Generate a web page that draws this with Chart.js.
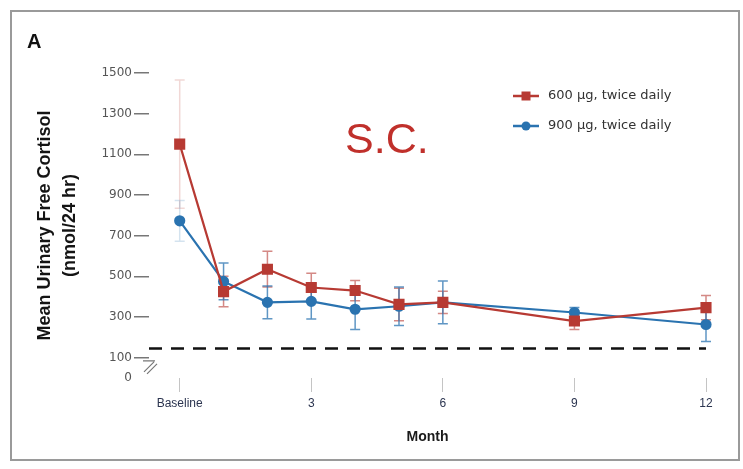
<!DOCTYPE html>
<html>
<head>
<meta charset="utf-8">
<title>Urinary free cortisol by month</title>
<script src="https://cdn.jsdelivr.net/npm/chart.js@4.4.1/dist/chart.umd.min.js"></script>
<style>
  html, body { margin: 0; padding: 0; background: #fff; }
  #wrap { position: relative; width: 743px; height: 469px; }
  #frame { position: absolute; left: 10px; top: 10px; width: 726px; height: 447px; border: 2px solid #9a9a9a; pointer-events: none; }
  #panel { position: absolute; left: 27px; top: 31px; font: bold 20px "Liberation Sans", Arial, sans-serif; line-height: 1; color: #111; }
  #route { position: absolute; left: 345px; top: 117px; font: 43px "Liberation Sans", Arial, sans-serif; line-height: 1; color: #c0302b; }
</style>
</head>
<body>
<div id="wrap">
  <canvas id="ufcChart" width="743" height="469"></canvas>
  <div id="frame"></div>
  <div id="panel">A</div>
  <div id="route">S.C.</div>
</div>
<script>
// visit months (0 = baseline)
const months = [0, 1, 2, 3, 4, 5, 6, 9, 12];

// mean UFC, nmol/24 hr, with error bar half-widths
const dose600 = [1150, 425, 535, 445, 430, 362, 372, 280, 346];
const dose600Err = [315, 75, 88, 70, 50, 80, 55, 42, 60];
const dose900 = [773, 475, 372, 377, 338, 353, 372, 322, 263];
const dose900Err = [100, 90, 80, 87, 100, 95, 105, 25, 83];

const monthTicks = [0, 3, 6, 9, 12];
const monthLabels = ['Baseline', '3', '6', '9', '12'];
const cortisolTicks = [0, 100, 300, 500, 700, 900, 1100, 1300, 1500];
const upperLimit = 145;

const FONT = '"Liberation Sans", Arial, sans-serif';
const WIDE = '"DejaVu Sans", Verdana, sans-serif';
const RED = '#b73a33';
const BLUE = '#2a73b0';

function toPoints(values) {
    return months.map((m, i) => ({ x: m, y: values[i] }));
}

// vertical error bars with small caps, drawn under the markers
const errorBars = {
    id: 'errorBars',
    beforeDatasetsDraw(chart) {
        const { ctx, scales: { x, y } } = chart;
        ctx.save();
        chart.data.datasets.forEach(ds => {
            ds.errors.forEach((e, i) => {
                const px = x.getPixelForValue(ds.data[i].x);
                const top = y.getPixelForValue(ds.data[i].y + e);
                const bot = y.getPixelForValue(ds.data[i].y - e);
                ctx.strokeStyle = i === 0 ? ds.errorFaint : ds.errorColor;
                ctx.lineWidth = 1.5;
                ctx.beginPath();
                ctx.moveTo(px, top);
                ctx.lineTo(px, bot);
                ctx.moveTo(px - 5, top);
                ctx.lineTo(px + 5, top);
                ctx.moveTo(px - 5, bot);
                ctx.lineTo(px + 5, bot);
                ctx.stroke();
            });
        });
        ctx.restore();
    }
};

// dashed upper limit of normal plus the y-axis break mark
const limitLine = {
    id: 'limitLine',
    beforeDatasetsDraw(chart) {
        const { ctx, chartArea, scales: { x, y } } = chart;
        const py = y.getPixelForValue(upperLimit);
        ctx.save();
        ctx.strokeStyle = '#111';
        ctx.lineWidth = 2.5;
        ctx.setLineDash([13, 9]);
        ctx.beginPath();
        ctx.moveTo(chartArea.left, py);
        ctx.lineTo(x.getPixelForValue(12), py);
        ctx.stroke();

        // break between 0 and 100
        const bx = chartArea.left;
        const by = (y.getPixelForValue(100) + y.getPixelForValue(0)) / 2;
        ctx.setLineDash([]);
        ctx.strokeStyle = '#777';
        ctx.lineWidth = 1.2;
        ctx.beginPath();
        ctx.moveTo(bx - 6, by - 7);
        ctx.lineTo(bx + 6, by - 7);
        ctx.moveTo(bx - 5, by + 4);
        ctx.lineTo(bx + 5, by - 6);
        ctx.moveTo(bx - 2, by + 6);
        ctx.lineTo(bx + 8, by - 4);
        ctx.stroke();
        ctx.restore();
    }
};

// two-row legend in the upper right
const sideLegend = {
    id: 'sideLegend',
    afterDraw(chart) {
        const { ctx } = chart;
        const rows = [96, 126];
        ctx.save();
        chart.data.datasets.forEach((ds, i) => {
            const ly = rows[i];
            ctx.strokeStyle = ds.borderColor;
            ctx.fillStyle = ds.borderColor;
            ctx.lineWidth = 2.5;
            ctx.beginPath();
            ctx.moveTo(513, ly);
            ctx.lineTo(539, ly);
            ctx.stroke();
            ctx.beginPath();
            if (ds.pointStyle === 'rect') {
                ctx.rect(526 - 4.5, ly - 4.5, 9, 9);
            } else {
                ctx.arc(526, ly, 4.5, 0, Math.PI * 2);
            }
            ctx.fill();
            ctx.fillStyle = '#333';
            ctx.font = '13px ' + WIDE;
            ctx.textBaseline = 'middle';
            ctx.fillText(ds.label, 548, ly);
        });
        ctx.restore();
    }
};

new Chart(document.getElementById('ufcChart'), {
    type: 'line',
    data: {
        datasets: [
            {
                label: '600 μg, twice daily',
                data: toPoints(dose600),
                errors: dose600Err,
                errorColor: 'rgba(183,58,51,0.6)',
                errorFaint: 'rgba(183,58,51,0.2)',
                borderColor: RED,
                backgroundColor: RED,
                borderWidth: 2.2,
                pointStyle: 'rect',
                pointRadius: 6.3,
                pointHoverRadius: 6.3,
                clip: false
            },
            {
                label: '900 μg, twice daily',
                data: toPoints(dose900),
                errors: dose900Err,
                errorColor: 'rgba(42,115,176,0.75)',
                errorFaint: 'rgba(42,115,176,0.2)',
                borderColor: BLUE,
                backgroundColor: BLUE,
                borderWidth: 2.2,
                pointStyle: 'circle',
                pointRadius: 4.5,
                pointHoverRadius: 4.5,
                clip: false
            }
        ]
    },
    options: {
        responsive: false,
        animation: false,
        layout: { padding: { top: 73, right: 37, bottom: 20, left: 0 } },
        plugins: {
            legend: { display: false },
            tooltip: { enabled: false }
        },
        scales: {
            x: {
                type: 'linear',
                min: -0.7,
                max: 12,
                afterBuildTicks: s => { s.ticks = monthTicks.map(v => ({ value: v })); },
                afterFit: s => { s.height = 71; },
                grid: { drawOnChartArea: false, tickLength: 14, color: '#c4c4c4' },
                border: { display: false },
                ticks: {
                    callback: (v, i) => monthLabels[i],
                    autoSkip: false,
                    maxRotation: 0,
                    padding: 4,
                    color: '#2c3550',
                    font: { size: 12, family: FONT }
                },
                title: {
                    display: true,
                    text: 'Month',
                    color: '#1a1a1a',
                    padding: { top: 0, bottom: 3 },
                    font: { size: 14, weight: 'bold', family: FONT }
                }
            },
            y: {
                type: 'linear',
                min: 0,
                max: 1500,
                afterBuildTicks: s => { s.ticks = cortisolTicks.map(v => ({ value: v })); },
                afterFit: s => { s.width = 149; },
                grid: {
                    drawOnChartArea: false,
                    tickLength: 15,
                    lineWidth: 1.5,
                    color: c => (c.tick && c.tick.value === 0 ? 'rgba(0,0,0,0)' : '#777')
                },
                border: { display: false },
                ticks: {
                    callback: v => String(v),
                    padding: 2,
                    color: '#555',
                    font: { size: 12, family: WIDE }
                },
                title: {
                    display: true,
                    text: ['Mean Urinary Free Cortisol', '(nmol/24 hr)'],
                    color: '#141414',
                    padding: { top: 32, bottom: 0 },
                    font: { size: 18, weight: 'bold', family: FONT, lineHeight: 1.4 }
                }
            }
        }
    },
    plugins: [errorBars, limitLine, sideLegend]
});
</script>
</body>
</html>
